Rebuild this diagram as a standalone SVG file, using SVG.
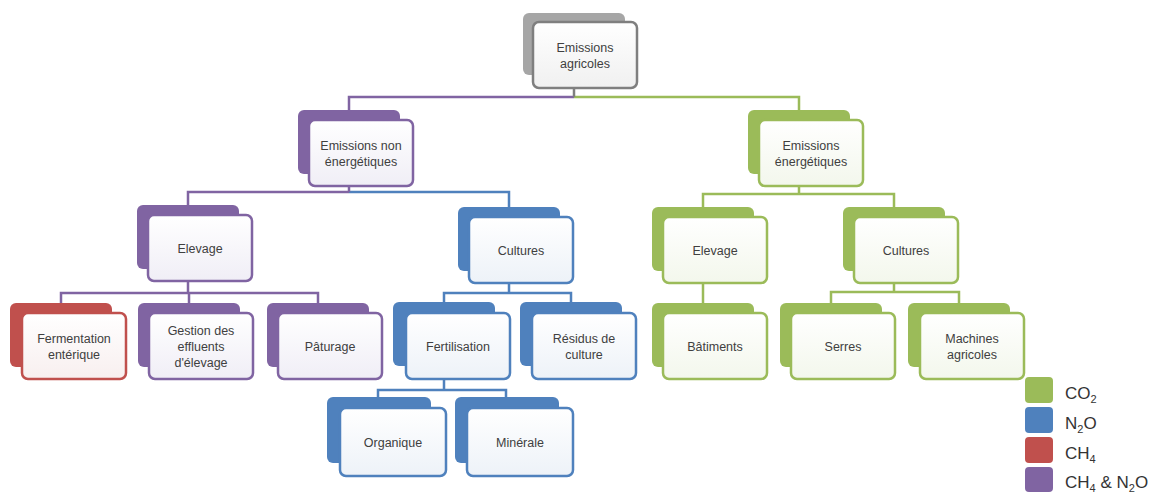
<svg xmlns="http://www.w3.org/2000/svg" width="1159" height="492" viewBox="0 0 1159 492">
<defs>
<linearGradient id="gw" x1="0" y1="0" x2="0" y2="1"><stop offset="0" stop-color="#ffffff"/><stop offset="1" stop-color="#f0f0f0"/></linearGradient>
<linearGradient id="gp" x1="0" y1="0" x2="0" y2="1"><stop offset="0" stop-color="#ffffff"/><stop offset="1" stop-color="#f0eef6"/></linearGradient>
<linearGradient id="gb" x1="0" y1="0" x2="0" y2="1"><stop offset="0" stop-color="#ffffff"/><stop offset="1" stop-color="#edf2f8"/></linearGradient>
<linearGradient id="gg" x1="0" y1="0" x2="0" y2="1"><stop offset="0" stop-color="#ffffff"/><stop offset="1" stop-color="#f3f7ec"/></linearGradient>
<linearGradient id="gr" x1="0" y1="0" x2="0" y2="1"><stop offset="0" stop-color="#ffffff"/><stop offset="1" stop-color="#f8efef"/></linearGradient>
</defs>
<style>
.back{rx:6;ry:6}
.front{rx:6;ry:6;stroke-width:2.5}
.k .back{fill:#a6a6a6}.k .front{fill:url(#gw);stroke:#7f7f7f}
.p .back{fill:#8064a2}.p .front{fill:url(#gp);stroke:#8064a2}
.b .back{fill:#4f81bd}.b .front{fill:url(#gb);stroke:#4f81bd}
.g .back{fill:#9bbb59}.g .front{fill:url(#gg);stroke:#9bbb59}
.r .back{fill:#c0504d}.r .front{fill:url(#gr);stroke:#c0504d}
text{font-family:"Liberation Sans",Arial,sans-serif;font-size:12.5px;fill:#404040;text-anchor:middle}
.c path{fill:none;stroke-width:2.5}
.cp{stroke:#8064a2}.cb{stroke:#4f81bd}.cg{stroke:#9bbb59}.ck{stroke:#7f7f7f}
.lg text{text-anchor:start;font-size:17px;fill:#333}
</style>
<g id="connectors" class="c">
<path class="cp" d="M574 97H349V110"/>
<path class="cg" d="M574 97H799V110"/>
<path class="ck" d="M574 88V97"/>
<path class="cp" d="M349 192H188V205"/>
<path class="cb" d="M349 192H509V207"/>
<path class="cp" d="M349 186V192"/>
<path class="cg" d="M799 194H703V207M799 194H894V207M799 186V194"/>
<path class="cp" d="M188 281V293M61 303V293H318V303M189 293V303"/>
<path class="cb" d="M509 283V293M444 302V293H571V302"/>
<path class="cg" d="M703 283V303"/>
<path class="cg" d="M894 283V292M831 303V292H959V303"/>
<path class="cb" d="M444 379V390M378 397V390H506V397"/>
</g>
<g id="n-top" class="k"><rect class="back" x="523" y="13" width="102" height="62"/><rect class="front" x="533" y="22" width="104" height="66"/><text x="585" y="52">Emissions</text><text x="585" y="68">agricoles</text></g>
<g id="n-nonenerg" class="p"><rect class="back" x="298" y="110" width="102" height="64"/><rect class="front" x="309" y="120" width="104" height="66"/><text x="361" y="150">Emissions non</text><text x="361" y="166">énergétiques</text></g>
<g id="n-energ" class="g"><rect class="back" x="748" y="110" width="102" height="64"/><rect class="front" x="759" y="120" width="104" height="66"/><text x="811" y="150">Emissions</text><text x="811" y="166">énergétiques</text></g>
<g id="n-elevage-p" class="p"><rect class="back" x="137" y="205" width="102" height="64"/><rect class="front" x="148" y="215" width="104" height="66"/><text x="200" y="253">Elevage</text></g>
<g id="n-cultures-b" class="b"><rect class="back" x="458" y="207" width="102" height="64"/><rect class="front" x="469" y="217" width="104" height="66"/><text x="521" y="255">Cultures</text></g>
<g id="n-elevage-g" class="g"><rect class="back" x="652" y="207" width="102" height="64"/><rect class="front" x="663" y="217" width="104" height="66"/><text x="715" y="255">Elevage</text></g>
<g id="n-cultures-g" class="g"><rect class="back" x="843" y="207" width="102" height="64"/><rect class="front" x="854" y="217" width="104" height="66"/><text x="906" y="255">Cultures</text></g>
<g id="n-fermentation" class="r"><rect class="back" x="10" y="303" width="102" height="64"/><rect class="front" x="22" y="313" width="104" height="66"/><text x="74" y="343">Fermentation</text><text x="74" y="359">entérique</text></g>
<g id="n-gestion" class="p"><rect class="back" x="138" y="303" width="102" height="64"/><rect class="front" x="149" y="313" width="104" height="66"/><text x="201" y="335">Gestion des</text><text x="201" y="351">effluents</text><text x="201" y="367">d'élevage</text></g>
<g id="n-paturage" class="p"><rect class="back" x="267" y="303" width="102" height="64"/><rect class="front" x="278" y="313" width="104" height="66"/><text x="330" y="351">Pâturage</text></g>
<g id="n-fertilisation" class="b"><rect class="back" x="393" y="302" width="102" height="64"/><rect class="front" x="406" y="313" width="104" height="66"/><text x="458" y="351">Fertilisation</text></g>
<g id="n-residus" class="b"><rect class="back" x="520" y="302" width="102" height="64"/><rect class="front" x="532" y="313" width="104" height="66"/><text x="584" y="343">Résidus de</text><text x="584" y="359">culture</text></g>
<g id="n-batiments" class="g"><rect class="back" x="652" y="303" width="102" height="64"/><rect class="front" x="663" y="313" width="104" height="66"/><text x="715" y="351">Bâtiments</text></g>
<g id="n-serres" class="g"><rect class="back" x="780" y="303" width="102" height="64"/><rect class="front" x="791" y="313" width="104" height="66"/><text x="843" y="351">Serres</text></g>
<g id="n-machines" class="g"><rect class="back" x="908" y="303" width="102" height="64"/><rect class="front" x="920" y="313" width="104" height="66"/><text x="972" y="343">Machines</text><text x="972" y="359">agricoles</text></g>
<g id="n-organique" class="b"><rect class="back" x="327" y="397" width="104" height="66"/><rect class="front" x="340" y="408" width="106" height="68"/><text x="393" y="447">Organique</text></g>
<g id="n-minerale" class="b"><rect class="back" x="455" y="397" width="104" height="66"/><rect class="front" x="467" y="408" width="106" height="68"/><text x="520" y="447">Minérale</text></g>
<g id="legend" class="lg">
<rect x="1025" y="377" width="28" height="26" rx="4" fill="#9bbb59"/>
<rect x="1025" y="407" width="28" height="26" rx="4" fill="#4f81bd"/>
<rect x="1025" y="437" width="28" height="26" rx="4" fill="#c0504d"/>
<rect x="1025" y="467" width="28" height="25" rx="4" fill="#8064a2"/>
<text x="1065" y="399">CO<tspan font-size="11" dy="4">2</tspan></text>
<text x="1065" y="429">N<tspan font-size="11" dy="4">2</tspan><tspan dy="-4">O</tspan></text>
<text x="1065" y="459">CH<tspan font-size="11" dy="4">4</tspan></text>
<text x="1065" y="488">CH<tspan font-size="11" dy="4">4</tspan><tspan dy="-4"> &amp; N</tspan><tspan font-size="11" dy="4">2</tspan><tspan dy="-4">O</tspan></text>
</g>
</svg>
